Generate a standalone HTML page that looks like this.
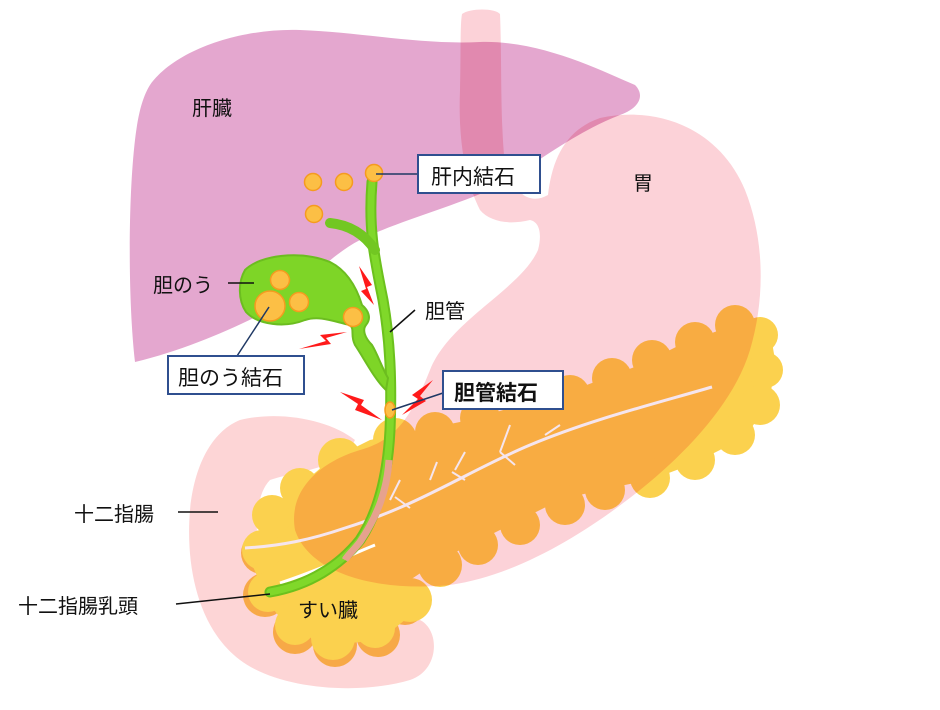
<!DOCTYPE html>
<html><head><meta charset="utf-8"><style>
html,body{margin:0;padding:0;background:#fff}
svg text{font-family:"Liberation Sans","Noto Sans CJK JP",sans-serif;fill:#111}
</style></head><body>
<svg width="940" height="705" viewBox="0 0 940 705" xmlns="http://www.w3.org/2000/svg">
<!-- liver -->
<path d="M150,85 C175,50 240,28 300,30 C360,32 420,45 480,42 C540,40 600,70 635,85 C645,95 640,108 620,115 C580,130 540,160 500,185 C460,205 400,220 360,240 C330,255 300,290 270,310 C230,330 185,350 135,362 C128,300 128,200 135,140 C138,115 142,98 150,85 Z" fill="#e4a7cf"/>
<!-- duodenum -->
<path d="M240,420 C280,410 330,420 355,440 C340,470 300,470 270,480 C250,500 255,560 270,590 C300,615 360,620 420,620 C440,630 440,670 410,680 C360,695 280,690 240,660 C200,630 185,570 190,510 C195,460 215,430 240,420 Z" fill="#fdd5d6"/>
<!-- pancreas rim -->
<g fill="#f7a947">
<circle cx="262" cy="553" r="21"/><circle cx="265" cy="595" r="22"/><circle cx="295" cy="632" r="22"/><circle cx="335" cy="645" r="22"/><circle cx="378" cy="635" r="22"/><circle cx="405" cy="605" r="20"/>
</g>
<!-- pancreas yellow -->
<g fill="#fbd14e">
<path d="M250,560 L265,520 L295,490 L330,460 L370,440 L420,430 L470,420 L520,405 L560,395 L600,380 L640,365 L680,345 L720,330 L750,320 L770,330 L775,360 L770,400 L750,430 L720,450 L690,465 L650,480 L600,490 L560,500 L520,520 L480,540 L440,560 L410,580 L405,620 L380,640 L330,645 L290,630 L270,605 Z"/>
<circle cx="262" cy="550" r="20"/><circle cx="272" cy="515" r="20"/><circle cx="300" cy="488" r="20"/><circle cx="340" cy="460" r="22"/><circle cx="395" cy="440" r="22"/><circle cx="435" cy="432" r="20"/>
<circle cx="480" cy="418" r="20"/><circle cx="525" cy="405" r="20"/><circle cx="570" cy="395" r="20"/><circle cx="612" cy="378" r="20"/><circle cx="652" cy="360" r="20"/><circle cx="695" cy="342" r="20"/><circle cx="735" cy="325" r="20"/><circle cx="760" cy="335" r="18"/>
<circle cx="765" cy="370" r="18"/><circle cx="760" cy="405" r="20"/><circle cx="735" cy="435" r="20"/><circle cx="695" cy="460" r="20"/><circle cx="650" cy="478" r="20"/><circle cx="605" cy="490" r="20"/><circle cx="565" cy="505" r="20"/><circle cx="520" cy="525" r="20"/><circle cx="478" cy="545" r="20"/><circle cx="440" cy="565" r="22"/><circle cx="410" cy="600" r="22"/>
<circle cx="375" cy="628" r="20"/><circle cx="333" cy="638" r="22"/><circle cx="295" cy="625" r="20"/><circle cx="268" cy="592" r="20"/>
</g>
<!-- stomach -->
<path d="M462,14 C470,8 495,8 500,14 C502,60 500,120 505,165 C515,195 530,205 548,195 C552,160 565,130 600,118 C660,105 720,130 745,190 C765,240 765,300 750,350 C735,400 690,450 640,490 C590,530 520,575 450,585 C380,592 310,575 295,530 C288,490 320,462 360,450 C395,440 410,420 430,370 C450,320 520,290 538,250 C542,235 540,222 530,220 C510,225 490,222 480,210 C465,180 458,140 460,90 C461,50 460,25 462,14 Z" fill="#fcd2d8" style="mix-blend-mode:multiply"/>
<!-- pancreatic duct -->
<path d="M245,548 C280,546 310,540 345,528 C420,505 470,470 530,445 C590,420 650,405 712,387" stroke="#f5e5ee" stroke-width="3" fill="none"/>
<path d="M280,583 C320,570 350,555 375,545" stroke="#fff" stroke-width="3" fill="none"/>
<g stroke="#f5e5ee" stroke-width="2" fill="none">
<path d="M390,500 L400,480"/><path d="M395,497 L410,508"/><path d="M430,480 L437,462"/><path d="M455,470 L465,452"/><path d="M452,472 L465,480"/><path d="M500,452 L510,425"/><path d="M500,452 L515,465"/><path d="M545,435 L560,425"/>
</g>
<!-- bile duct -->
<path d="M372,182 C368,230 375,260 383,300 C390,340 392,380 390,430 C388,470 380,510 360,540 C340,565 310,585 270,592" stroke="#6cc11d" stroke-width="11" fill="none" stroke-linecap="round"/>
<path d="M372,182 C368,230 375,260 383,300 C390,340 392,380 390,430 C388,470 380,510 360,540 C340,565 310,585 270,592" stroke="#80d82a" stroke-width="7" fill="none" stroke-linecap="round"/>
<path d="M389,460 C387,490 378,515 360,542 C352,552 348,555 345,560" stroke="#e6a28e" stroke-width="7" fill="none"/>
<path d="M330,223 C350,225 365,235 375,250" stroke="#72c722" stroke-width="10" fill="none" stroke-linecap="round"/>
<!-- gallbladder -->
<path d="M245,270 C260,255 300,250 330,262 C350,272 358,292 362,305 C368,310 372,318 366,325 C362,330 365,338 372,345 C378,355 382,368 388,378 L386,390 C375,380 365,360 355,345 C350,335 355,330 350,325 C335,322 320,315 305,320 C285,328 258,325 246,312 C238,300 238,282 245,270 Z" fill="#7ed527" stroke="#6cbd20" stroke-width="2"/>
<!-- stones -->
<g fill="#fcbf45" stroke="#f59b1f" stroke-width="1.5">
<circle cx="313" cy="182" r="8.5"/><circle cx="344" cy="182" r="8.5"/><circle cx="374" cy="173" r="8.5"/><circle cx="314" cy="214" r="8.5"/>
<circle cx="280" cy="280" r="9.5"/><circle cx="270" cy="306" r="15"/><circle cx="299" cy="302" r="9.5"/><circle cx="353" cy="317" r="9.5"/>
<ellipse cx="390" cy="410" rx="5" ry="8"/>
</g>
<!-- lightning -->
<g fill="#ff1a1a">
<path d="M359,266 L372,285 L367,287 L374,305 L361,291 L366,289 Z"/>
<path d="M347,332 L320,335 L326,341 L299,349 L331,344 L326,338 Z"/>
<path d="M340,392 L364,400 L361,405 L382,420 L355,410 L358,404 Z"/>
<path d="M433,380 L412,395 L418,399 L402,415 L426,401 L420,396 Z"/>
</g>
<!-- leader lines -->
<g stroke="#111" stroke-width="1.5" fill="none">
<line x1="228" y1="283" x2="254" y2="283"/>
<line x1="415" y1="310" x2="390" y2="332"/>
<line x1="178" y1="512" x2="218" y2="512"/>
<line x1="176" y1="604" x2="270" y2="594"/>
</g>
<g stroke="#1f3864" stroke-width="1.5" fill="none">
<line x1="376" y1="174" x2="418" y2="174"/>
<line x1="269" y1="307" x2="237" y2="356"/>
<line x1="392" y1="410" x2="443" y2="393"/>
</g>
<!-- label boxes -->
<g fill="#fff" stroke="#2f4f8f" stroke-width="2">
<rect x="418" y="155" width="122" height="38"/>
<rect x="168" y="356" width="136" height="38"/>
<rect x="443" y="371" width="120" height="38"/>
</g>
<text x="431" y="184" font-size="21">肝内結石</text>
<text x="178" y="385" font-size="21">胆のう結石</text>
<text x="454" y="400" font-size="21" font-weight="bold">胆管結石</text>
<text x="192" y="115" font-size="20">肝臓</text>
<text x="633" y="190" font-size="20">胃</text>
<text x="153" y="292" font-size="20">胆のう</text>
<text x="425" y="318" font-size="20">胆管</text>
<text x="74" y="521" font-size="20">十二指腸</text>
<text x="18" y="613" font-size="20">十二指腸乳頭</text>
<text x="298" y="617" font-size="20">すい臓</text>
</svg>
</body></html>
